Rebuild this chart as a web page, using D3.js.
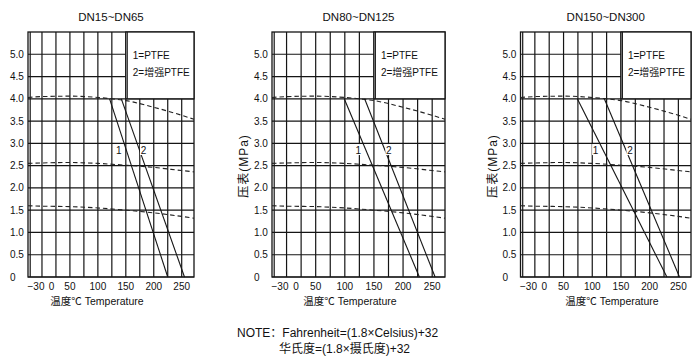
<!DOCTYPE html>
<html>
<head>
<meta charset="utf-8">
<script src="https://cdn.jsdelivr.net/npm/d3@7"></script>
<style>
  body { margin: 0; background: #fff; }
  text { font-family: "Liberation Sans", Arial, "Noto Sans CJK SC", sans-serif; fill: #111; }
</style>
</head>
<body>
<div id="chart"></div>
<script>
// chart data
var panelTitles = ["DN15~DN65", "DN80~DN125", "DN150~DN300"];
var xTickValues = [-30, 0, 50, 100, 150, 200, 250];
var yTickValues = [0, 0.5, 1.0, 1.5, 2.0, 2.5, 3.0, 3.5, 4.0, 4.5, 5.0];
var xGridValues = [0, 25, 50, 75, 100, 125, 150, 175, 200, 225, 250];
var legendLabels = ["1=PTFE", "2=增强PTFE"];

// solid lines: [temperature, pressure] start and end, one per panel
var ptfeLines = [
    [[121, 4.0], [225, 0]],
    [[99, 4.0], [228, 0]],
    [[74, 4.0], [230, 0]]
];
var reinforcedLines = [
    [[142, 4.0], [255, 0]],
    [[134, 4.0], [255, 0]],
    [[121, 4.0], [252, 0]]
];

// dashed pressure rating curves (same shape in every panel)
var rating40 = [[-25, 4.03], [0, 4.05], [50, 4.06], [100, 4.03], [125, 4.0], [150, 3.96], [200, 3.81], [250, 3.63], [272, 3.54]];
var rating25 = [[-25, 2.55], [0, 2.56], [50, 2.57], [100, 2.55], [150, 2.51], [200, 2.46], [250, 2.39], [272, 2.36]];
var rating16 = [[-25, 1.60], [0, 1.59], [50, 1.58], [100, 1.55], [150, 1.50], [200, 1.44], [250, 1.36], [272, 1.32]];

var xDomain = [-25, 272];
var yDomain = [0, 5.5];

// layout
var svgWidth = 700;
var svgHeight = 363;
var plotTop = 32;
var plotBottom = 277;
var panels = [
    { left: 28, right: 194, xTitleAt: 97, yTitle: false },
    { left: 272, right: 445, xTitleAt: 350, yTitle: true },
    { left: 520.5, right: 691, xTitleAt: 612, yTitle: true }
];
var ink = "#151515";

var svg = d3.select("#chart")
    .append("svg")
    .attr("width", svgWidth)
    .attr("height", svgHeight);

var yScale = d3.scaleLinear()
    .domain(yDomain)
    .range([plotBottom, plotTop]);

panels.forEach(function (p, i) {
    var xScale = d3.scaleLinear()
        .domain(xDomain)
        .range([p.left, p.right]);

    var g = svg.append("g");

    // horizontal grid
    g.selectAll(".hgrid")
        .data(yTickValues)
        .enter()
        .append("line")
        .attr("x1", p.left)
        .attr("x2", p.right)
        .attr("y1", d => yScale(d))
        .attr("y2", d => yScale(d))
        .attr("stroke", ink)
        .attr("stroke-width", 1.2);

    // vertical grid
    g.selectAll(".vgrid")
        .data(xGridValues)
        .enter()
        .append("line")
        .attr("x1", d => xScale(d))
        .attr("x2", d => xScale(d))
        .attr("y1", plotTop)
        .attr("y2", plotBottom)
        .attr("stroke", ink)
        .attr("stroke-width", 1.2);

    // frame, left edge is doubled
    g.append("rect")
        .attr("x", p.left)
        .attr("y", plotTop)
        .attr("width", p.right - p.left)
        .attr("height", plotBottom - plotTop)
        .attr("fill", "none")
        .attr("stroke", ink)
        .attr("stroke-width", 1.3);
    g.append("line")
        .attr("x1", p.left + 2.2)
        .attr("x2", p.left + 2.2)
        .attr("y1", plotTop)
        .attr("y2", plotBottom)
        .attr("stroke", ink)
        .attr("stroke-width", 1.2);

    // legend box covers the top right of the grid
    g.append("rect")
        .attr("x", xScale(150))
        .attr("y", plotTop)
        .attr("width", p.right - xScale(150))
        .attr("height", yScale(4.0) - plotTop)
        .attr("fill", "#fff")
        .attr("stroke", ink)
        .attr("stroke-width", 1.3);
    g.append("line")
        .attr("x1", xScale(150) + 1.5)
        .attr("x2", xScale(150) + 1.5)
        .attr("y1", plotTop)
        .attr("y2", yScale(4.0))
        .attr("stroke", ink)
        .attr("stroke-width", 1);
    g.selectAll(".legend")
        .data(legendLabels)
        .enter()
        .append("text")
        .attr("x", xScale(150) + 7)
        .attr("y", (d, j) => yScale(4.9) + j * 17)
        .attr("font-size", "10px")
        .text(d => d);

    // dashed rating curves
    var curve = d3.line()
        .x(d => xScale(d[0]))
        .y(d => yScale(d[1]))
        .curve(d3.curveMonotoneX);
    [rating40, rating25, rating16].forEach(function (r) {
        g.append("path")
            .attr("d", curve(r))
            .attr("fill", "none")
            .attr("stroke", "#222")
            .attr("stroke-width", 1.1)
            .attr("stroke-dasharray", "4.5,3");
    });

    // solid temperature limit lines
    var straight = d3.line()
        .x(d => xScale(d[0]))
        .y(d => yScale(d[1]));
    [ptfeLines[i], reinforcedLines[i]].forEach(function (l) {
        g.append("path")
            .attr("d", straight(l))
            .attr("fill", "none")
            .attr("stroke", ink)
            .attr("stroke-width", 1.1);
    });

    // line numbers, placed next to each line at 2.85 MPa
    var labelP = 2.85;
    [ptfeLines[i], reinforcedLines[i]].forEach(function (l, j) {
        var t = l[0][0] + (l[1][0] - l[0][0]) * (l[0][1] - labelP) / (l[0][1] - l[1][1]);
        g.append("rect")
            .attr("x", xScale(t) + (j === 0 ? -11 : 0.5))
            .attr("y", yScale(labelP) - 6)
            .attr("width", 7)
            .attr("height", 11)
            .attr("fill", "#fff");
        g.append("text")
            .attr("x", xScale(t) + (j === 0 ? -7.5 : 4))
            .attr("y", yScale(labelP) + 4)
            .attr("text-anchor", "middle")
            .attr("font-size", "10px")
            .text(j + 1);
    });

    // y tick labels
    g.selectAll(".ylab")
        .data(yTickValues)
        .enter()
        .append("text")
        .attr("x", p.left - 18)
        .attr("y", d => yScale(d) + 3.5)
        .attr("font-size", "10px")
        .text(d => d === 0 ? "0" : d.toFixed(1));

    // x tick labels (the first two are squeezed in by the left edge)
    g.selectAll(".xlab")
        .data(xTickValues)
        .enter()
        .append("text")
        .attr("x", d => xScale(Math.max(d, xDomain[0])) + (d === -30 ? 8 : d === 0 ? 9.5 : 0))
        .attr("y", plotBottom + 13)
        .attr("text-anchor", "middle")
        .attr("font-size", "10px")
        .text(d => d === -30 ? "\u221230" : d);

    // titles
    g.append("text")
        .attr("x", (p.left + p.right) / 2)
        .attr("y", 20.5)
        .attr("text-anchor", "middle")
        .attr("font-size", "11.5px")
        .text(panelTitles[i]);

    g.append("text")
        .attr("x", p.xTitleAt)
        .attr("y", 305)
        .attr("text-anchor", "middle")
        .attr("font-size", "10.5px")
        .text("温度℃ Temperature");

    if (p.yTitle) {
        g.append("text")
            .attr("transform", `translate(${p.left - 24}, 166) rotate(-90)`)
            .attr("text-anchor", "middle")
            .attr("font-size", "12px")
            .attr("letter-spacing", "1px")
            .text("压表(MPa)");
    }
});

// conversion note
svg.append("text")
    .attr("x", 237)
    .attr("y", 337)
    .attr("font-size", "12px")
    .text("NOTE：Fahrenheit=(1.8×Celsius)+32");
svg.append("text")
    .attr("x", 279)
    .attr("y", 353)
    .attr("font-size", "12px")
    .text("华氏度=(1.8×摄氏度)+32");
</script>
</body>
</html>
